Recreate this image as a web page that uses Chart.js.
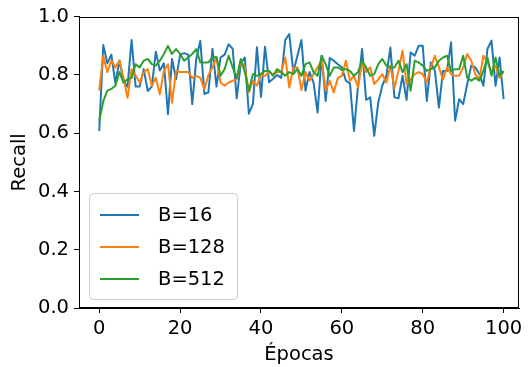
<!DOCTYPE html>
<html>
<head>
<meta charset="utf-8">
<script src="https://cdn.jsdelivr.net/npm/chart.js@4.4.1/dist/chart.umd.min.js"></script>
<style>
  html, body { margin: 0; padding: 0; background: #fff; }
</style>
</head>
<body>
<canvas id="chartRecall" width="532" height="367"></canvas>
<script>
// Recall por época (0..100) para tres tamaños de lote
const epochs = Array.from({ length: 101 }, (_, i) => i);

const recallB16 = [
    0.608, 0.903, 0.840, 0.870, 0.770, 0.850, 0.780, 0.760, 0.920, 0.760,
    0.760, 0.820, 0.745, 0.760, 0.880, 0.815, 0.840, 0.665, 0.855, 0.785,
    0.870, 0.875, 0.870, 0.700, 0.855, 0.917, 0.735, 0.740, 0.890, 0.760,
    0.860, 0.870, 0.905, 0.890, 0.720, 0.840, 0.860, 0.667, 0.700, 0.895,
    0.725, 0.897, 0.775, 0.787, 0.800, 0.790, 0.920, 0.940, 0.810, 0.866,
    0.920, 0.746, 0.810, 0.774, 0.671, 0.866, 0.711, 0.858, 0.849, 0.837,
    0.826, 0.780, 0.771, 0.608, 0.763, 0.889, 0.714, 0.723, 0.591, 0.706,
    0.763, 0.797, 0.894, 0.723, 0.720, 0.797, 0.714, 0.877, 0.866, 0.900,
    0.900, 0.711, 0.843, 0.814, 0.688, 0.814, 0.814, 0.912, 0.643, 0.717,
    0.700, 0.769, 0.832, 0.826, 0.803, 0.763, 0.889, 0.918, 0.763, 0.860,
    0.717
];

const recallB128 = [
    0.746, 0.866, 0.810, 0.849, 0.826, 0.849, 0.790, 0.722, 0.820, 0.797,
    0.774, 0.810, 0.820, 0.763, 0.790, 0.734, 0.814, 0.837, 0.705, 0.814,
    0.810, 0.810, 0.810, 0.790, 0.797, 0.790, 0.750, 0.800, 0.826, 0.860,
    0.774, 0.763, 0.774, 0.780, 0.785, 0.849, 0.826, 0.740, 0.780, 0.763,
    0.803, 0.797, 0.810, 0.803, 0.810, 0.810, 0.860, 0.757, 0.826, 0.826,
    0.748, 0.810, 0.780, 0.803, 0.826, 0.849, 0.746, 0.780, 0.740, 0.790,
    0.797, 0.849, 0.780, 0.797, 0.757, 0.843, 0.810, 0.826, 0.769, 0.785,
    0.803, 0.774, 0.832, 0.755, 0.814, 0.883, 0.769, 0.785, 0.803, 0.810,
    0.803, 0.774, 0.826, 0.866, 0.826, 0.785, 0.826, 0.803, 0.797, 0.797,
    0.826, 0.872, 0.849, 0.803, 0.785, 0.866, 0.843, 0.810, 0.832, 0.790,
    0.810
];

const recallB512 = [
    0.643, 0.710, 0.746, 0.752, 0.763, 0.810, 0.774, 0.785, 0.790, 0.837,
    0.826, 0.849, 0.855, 0.837, 0.832, 0.849, 0.872, 0.900, 0.872, 0.889,
    0.872, 0.849, 0.860, 0.872, 0.889, 0.843, 0.843, 0.843, 0.860, 0.862,
    0.797, 0.820, 0.866, 0.826, 0.790, 0.855, 0.810, 0.746, 0.803, 0.797,
    0.803, 0.814, 0.814, 0.797, 0.820, 0.810, 0.797, 0.810, 0.803, 0.820,
    0.797, 0.837, 0.843, 0.810, 0.797, 0.866, 0.837, 0.797, 0.826, 0.826,
    0.817, 0.820, 0.814, 0.797, 0.810, 0.849, 0.826, 0.797, 0.803, 0.837,
    0.855, 0.832, 0.826, 0.826, 0.849, 0.810, 0.837, 0.746, 0.849, 0.843,
    0.832, 0.814, 0.820, 0.826, 0.849, 0.860, 0.866, 0.814, 0.820, 0.820,
    0.866, 0.790, 0.780, 0.790, 0.780, 0.814, 0.860, 0.797, 0.860, 0.797,
    0.814
];

const seriesLabels = ['B=16', 'B=128', 'B=512'];
const seriesColors = ['#1f77b4', '#ff7f0e', '#2ca02c'];
const xTicks = [0, 20, 40, 60, 80, 100];
const yTicks = [0.0, 0.2, 0.4, 0.6, 0.8, 1.0];

const FONT = 'DejaVu Sans';
const FONT_SIZE = 19.5;

function toPoints(values) {
    return values.map((v, i) => ({ x: epochs[i], y: v }));
}

// marco completo alrededor del área del gráfico
const frame = {
    id: 'frame',
    afterDraw(chart) {
        const { ctx, chartArea: a } = chart;
        ctx.save();
        ctx.strokeStyle = '#000';
        ctx.lineWidth = 1;
        ctx.strokeRect(Math.round(a.left) + 0.5, Math.round(a.top) + 0.5,
            Math.round(a.right - a.left) - 1, Math.round(a.bottom - a.top) - 1);
        ctx.restore();
    }
};

// leyenda dentro del área, abajo a la izquierda
const legendBox = {
    id: 'legendBox',
    afterDatasetsDraw(chart) {
        const { ctx, chartArea: a } = chart;
        const w = 148, h = 106;
        const x0 = a.left + 10, y0 = a.bottom - 9 - h;
        ctx.save();
        ctx.beginPath();
        ctx.roundRect(x0 + 0.5, y0 + 0.5, w, h, 4);
        ctx.fillStyle = 'rgba(255,255,255,0.8)';
        ctx.fill();
        ctx.strokeStyle = '#cccccc';
        ctx.lineWidth = 1;
        ctx.stroke();
        ctx.font = FONT_SIZE + 'px "' + FONT + '"';
        ctx.textBaseline = 'middle';
        ctx.fillStyle = '#000';
        seriesLabels.forEach((label, i) => {
            const y = y0 + 22 + i * 32;
            ctx.strokeStyle = seriesColors[i];
            ctx.lineWidth = 2;
            ctx.beginPath();
            ctx.moveTo(x0 + 11, y);
            ctx.lineTo(x0 + 50, y);
            ctx.stroke();
            ctx.fillText(label, x0 + 69, y + 1);
        });
        ctx.restore();
    }
};

const ctx = document.getElementById('chartRecall');

new Chart(ctx, {
    type: 'line',
    data: {
        datasets: [recallB16, recallB128, recallB512].map((vals, i) => ({
            label: seriesLabels[i],
            data: toPoints(vals),
            borderColor: seriesColors[i],
            backgroundColor: seriesColors[i],
            borderWidth: 2,
            borderJoinStyle: 'round',
            pointRadius: 0,
            tension: 0,
            fill: false,
            order: 2 - i
        }))
    },
    options: {
        responsive: false,
        animation: false,
        events: [],
        layout: { padding: { top: 16, right: 13, left: 0, bottom: 0 } },
        font: { family: FONT, size: FONT_SIZE },
        plugins: {
            legend: { display: false },
            tooltip: { enabled: false }
        },
        scales: {
            x: {
                type: 'linear',
                min: -5,
                max: 103.8,
                afterBuildTicks: (s) => { s.ticks = xTicks.map(v => ({ value: v })); },
                afterFit: (s) => { s.height = 59; },
                ticks: {
                    color: '#000',
                    padding: 4,
                    font: { family: FONT, size: FONT_SIZE },
                    callback: (v) => String(v)
                },
                grid: {
                    drawOnChartArea: false,
                    drawTicks: true,
                    tickLength: 5,
                    tickColor: '#000'
                },
                border: { color: '#000', width: 1 },
                title: {
                    display: true,
                    text: 'Épocas',
                    color: '#000',
                    font: { family: FONT, size: FONT_SIZE },
                    padding: { top: 0, bottom: 0 }
                }
            },
            y: {
                min: 0,
                max: 1,
                afterBuildTicks: (s) => { s.ticks = yTicks.map(v => ({ value: v })); },
                afterFit: (s) => { s.width = 79; },
                ticks: {
                    color: '#000',
                    padding: 5,
                    font: { family: FONT, size: FONT_SIZE },
                    callback: (v) => v.toFixed(1)
                },
                grid: {
                    drawOnChartArea: false,
                    drawTicks: true,
                    tickLength: 5,
                    tickColor: '#000'
                },
                border: { color: '#000', width: 1 },
                title: {
                    display: true,
                    text: 'Recall',
                    color: '#000',
                    font: { family: FONT, size: FONT_SIZE },
                    padding: { top: 8, bottom: 0 }
                }
            }
        }
    },
    plugins: [legendBox, frame]
});
</script>
</body>
</html>
